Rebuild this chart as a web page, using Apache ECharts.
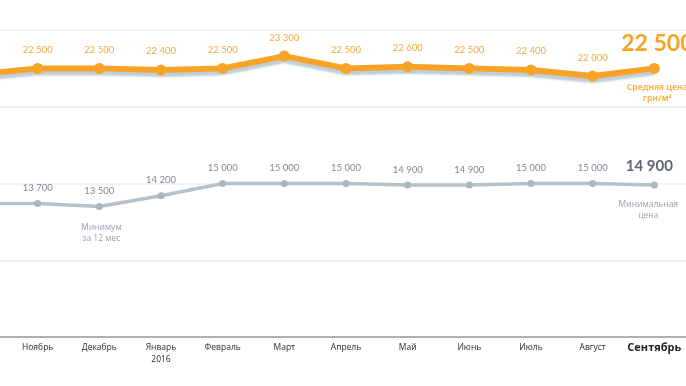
<!DOCTYPE html>
<html>
<head>
<meta charset="utf-8">
<script src="https://cdn.jsdelivr.net/npm/echarts@6/dist/echarts.min.js"></script>
<style>
html,body{margin:0;padding:0;background:#fff;overflow:hidden;width:686px;height:386px;}
#c{width:740px;height:386px;margin-left:-24px;}
</style>
</head>
<body>
<div id="c"></div>
<script>
var categories = ['Октябрь','Ноябрь','Декабрь','Январь\n2016','Февраль','Март','Апрель','Май','Июнь','Июль','Август','Сентябрь'];
var avgPrice = [22100,22500,22500,22400,22500,23300,22500,22600,22500,22400,22000,22500];
var minPrice = [13700,13700,13500,14200,15000,15000,15000,14900,14900,15000,15000,14900];
var avgNote = 'Средняя цена\nгрн/м²';
var minNote = 'Минимальная\nцена';
var minimumNote = 'Минимум\nза 12 мес';
var minimumIndex = 2;

function fmt(v){ return String(v).replace(/\B(?=(\d{3})+(?!\d))/g,' '); }
var last = categories.length - 1;
// one empty slot after the last month so the axis and grid run to the page edge
var axisCategories = categories.concat(['']);
var ORANGE = '#f7a327', ORANGE_T = '#f1a93f', GRAY = '#b6c1c9', GRAY_T = '#7d8b96';
var FONT = 'Lato';

var avgData = avgPrice.map(function(v,i){
  var d = {value:v};
  if(i===last){
    d.label = {fontSize:23, fontWeight:'bold', color:ORANGE, distance:8, offset:[3,0]};
  }
  return d;
});
var minData = minPrice.map(function(v,i){
  var d = {value:v};
  if(i===last){
    d.label = {fontSize:15, fontWeight:'bold', color:'#5b6772', distance:8, offset:[-5,0]};
  }
  return d;
});
var avgNoteData = avgPrice.map(function(v,i){
  return i===last ? {value:v, label:{show:true, formatter:avgNote, offset:[3,0]}} : '-';
});
var minNoteData = minPrice.map(function(v,i){
  if(i===last) return {value:v, label:{show:true, formatter:minNote, offset:[-6,2]}};
  if(i===minimumIndex) return {value:v, label:{show:true, formatter:minimumNote, offset:[2,4]}};
  return '-';
});

var chart = echarts.init(document.getElementById('c'), null, {renderer:'canvas'});
chart.setOption({
  animation:false,
  backgroundColor:'#ffffff',
  grid:{left:0, right:0, top:30, bottom:49, outerBoundsMode:'none', containLabel:false},
  xAxis:{
    type:'category', data:axisCategories, boundaryGap:false,
    axisLine:{lineStyle:{color:'#9a9a9a', width:1.5}},
    axisTick:{show:false},
    axisLabel:{
      interval:0, hideOverlap:false,
      color:'#2b2b2b', fontSize:8.5, fontFamily:'Open Sans', margin:5, lineHeight:12,
      formatter:function(v,i){ return i===last ? '{b|'+v+'}' : v; },
      rich:{b:{fontSize:11, fontWeight:'bold', color:'#222', fontFamily:'Open Sans'}}
    },
    splitLine:{show:false}
  },
  yAxis:{
    type:'value', min:5000, max:25000, interval:5000,
    axisLabel:{show:false}, axisLine:{show:false}, axisTick:{show:false},
    splitLine:{lineStyle:{color:'#f1f1f1', width:2}}
  },
  series:[
    {
      type:'line', data:minData, symbol:'circle', symbolSize:7,
      lineStyle:{color:GRAY, width:3.5},
      itemStyle:{color:'#aab6be'},
      label:{show:true, position:'top', distance:7, color:GRAY_T, fontSize:9.5, fontFamily:FONT,
        formatter:function(p){return fmt(p.value);}},
      z:2
    },
    {
      type:'line', data:avgData, symbol:'circle', symbolSize:11,
      lineStyle:{color:ORANGE, width:6, shadowColor:'rgba(170,188,200,0.75)', shadowOffsetY:4, shadowBlur:2},
      itemStyle:{color:ORANGE},
      label:{show:true, position:'top', distance:8, color:ORANGE_T, fontSize:9.5, fontFamily:FONT,
        formatter:function(p){return fmt(p.value);}},
      z:3
    },
    {
      type:'scatter', data:avgNoteData, symbolSize:0, silent:true,
      label:{position:'bottom', distance:14, color:ORANGE, fontSize:8.5, fontWeight:'bold', fontFamily:'Open Sans', lineHeight:11, align:'center'},
      z:4
    },
    {
      type:'scatter', data:minNoteData, symbolSize:0, silent:true,
      label:{position:'bottom', distance:12, color:GRAY_T, fontSize:8.5, fontFamily:'Open Sans', lineHeight:11, align:'center'},
      z:4
    }
  ]
});
</script>
</body>
</html>
